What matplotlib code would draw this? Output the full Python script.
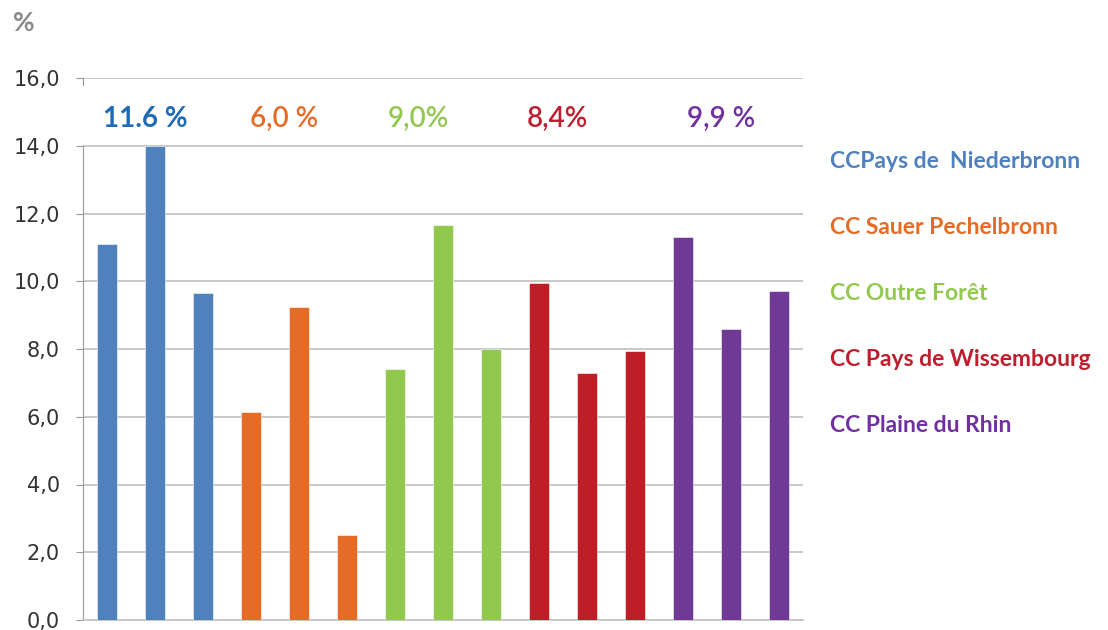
import matplotlib
matplotlib.use("Agg")
import matplotlib.pyplot as plt
import numpy as np

# -----------------------------------------------------------------
# Data

groups = ["CCPays de  Niederbronn", "CC Sauer Pechelbronn", "CC Outre Forêt",
          "CC Pays de Wissembourg", "CC Plaine du Rhin"]
bar_colors = ["#4F81BD", "#E46C26", "#93C84F", "#BE1E25", "#6F3995"]
legend_colors = ["#4F81BD", "#E46C26", "#93C84F", "#BE1E2D", "#7030A0"]
label_colors = ["#1F6BB5", "#E46C26", "#93C84F", "#BE1E2D", "#7030A0"]

values = [
    [11.1, 14.0, 9.65],
    [6.15, 9.25, 2.5],
    [7.4, 11.65, 8.0],
    [9.95, 7.3, 7.95],
    [11.3, 8.6, 9.7],
]

group_labels = ["11.6 %", "6,0 %", "9,0%", "8,4%", "9,9 %"]
label_offsets = [-0.2, -0.31, -0.52, -0.61, -0.2]

yticks = [0, 2, 4, 6, 8, 10, 12, 14, 16]
ytick_labels = ["0,0", "2,0", "4,0", "6,0", "8,0", "10,0", "12,0", "14,0", "16,0"]

# -----------------------------------------------------------------

fig = plt.figure(figsize=(11.08, 6.3), dpi=100)
ax = fig.add_axes([83 / 1108, 10 / 630, 720 / 1108, 542 / 630])

pos = 0
for g, vals in enumerate(values):
    xs = np.arange(pos, pos + len(vals))
    ax.bar(xs, vals, width=0.41, color=bar_colors[g], edgecolor="white",
           linewidth=0.4, zorder=3)
    ax.text(xs.mean() + label_offsets[g], 14.8, group_labels[g],
            color=label_colors[g], fontsize=20, ha="center", va="center",
            family=["Lato", "DejaVu Sans"],
            weight="bold" if g == 0 else "semibold")
    pos += len(vals)

ax.set_xlim(-0.5, pos - 0.5)
ax.set_ylim(0, 16)
ax.set_yticks(yticks)
ax.set_yticklabels(ytick_labels)
ax.set_xticks([])

ax.yaxis.grid(True, color="#C4C4C4", linewidth=1.3, zorder=0)
ax.set_axisbelow(True)
for side in ["top", "right"]:
    ax.spines[side].set_visible(False)
ax.spines["left"].set_color("#999999")
ax.spines["left"].set_bounds(0, 14)
ax.spines["bottom"].set_color("#C4C4C4")
ax.spines["bottom"].set_linewidth(1.3)
ax.plot([-0.5, -0.5], [15.8, 16], color="#999999", linewidth=0.8, clip_on=False)

ax.tick_params(axis="y", length=5, width=0.8, color="#999999", pad=11.5,
               labelsize=15, labelcolor="#333333")

fig.text(0.012, 1 - 23 / 630, "%", fontsize=19, weight="bold", color="#8A8A8A",
         family=["Lato", "DejaVu Sans"], va="center", ha="left")

for i, name in enumerate(groups):
    fig.text(830 / 1108, 1 - (161.7 + 65.9 * i) / 630, name, color=legend_colors[i],
             fontsize=16.5, family=["Lato", "DejaVu Sans"], weight="bold",
             ha="left", va="center")

fig.savefig("out.png", dpi=100)
